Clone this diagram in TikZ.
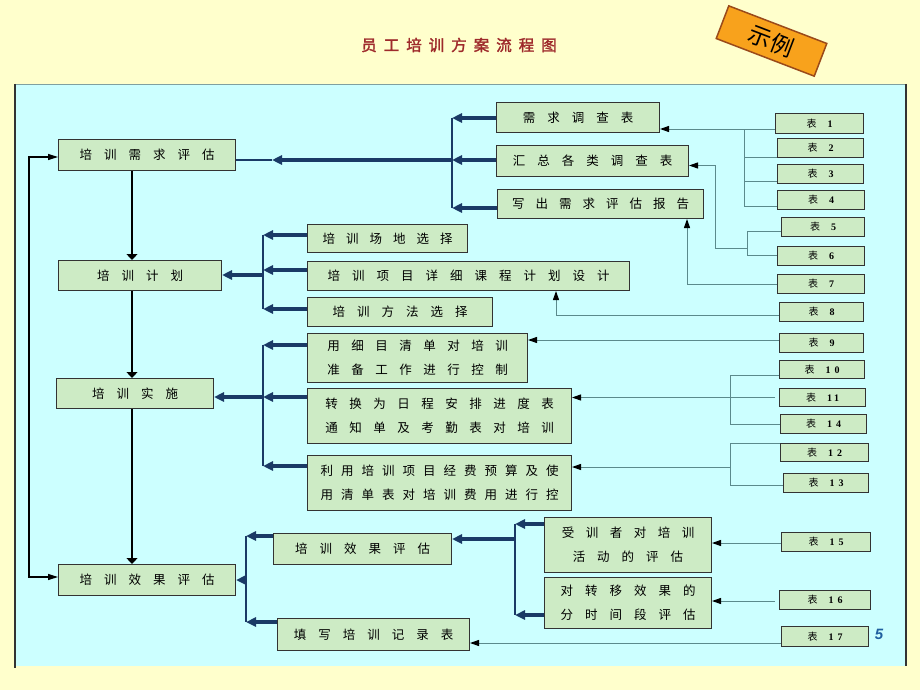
\documentclass[tikz,border=0pt]{standalone}
\usepackage{fontspec}
\setmainfont{Liberation Serif}
\newfontfamily\cjk{Noto Sans CJK SC}
\newfontfamily\cjkbold[FakeBold=2]{Noto Sans CJK SC}
\newfontfamily\numf{Liberation Serif}
\newfontfamily\pgnum{Liberation Sans}
\usetikzlibrary{arrows.meta,calc}
\definecolor{bgyellow}{HTML}{FFFFCC}
\definecolor{panelc}{HTML}{CCFFFF}
\definecolor{boxfill}{HTML}{CDEBC5}
\definecolor{boxborder}{HTML}{333333}
\definecolor{tline}{HTML}{5B8A8C}
\definecolor{navy}{HTML}{1A3A66}
\definecolor{titlered}{HTML}{9E2A2B}
\definecolor{badgefill}{HTML}{F8A21C}
\definecolor{badgeborder}{HTML}{9A4A1A}
\definecolor{pgblue}{HTML}{2060A0}
\definecolor{paneltop}{HTML}{7FA0A0}
\makeatletter
\newcommand\spread[2]{\def\sp@first{1}\@tfor\sp@ch:=#2\do{\ifx\sp@first\@empty\hspace{#1}\fi\sp@ch\let\sp@first\@empty}}
\makeatother
\newcommand\tb[1]{\cjk 表\hspace{11pt}{\numf\bfseries #1}}
\begin{document}
\begin{tikzpicture}[x=1pt,y=-1pt,
  box/.style={draw=boxborder, line width=1pt, fill=boxfill, inner sep=0pt, anchor=north west, align=center,
    font=\cjk\fontsize{12.5}{24}\selectfont},
  tbox/.style={box, font=\cjk\fontsize{10}{10}\selectfont},
  mainar/.style={line width=1.2pt, draw=black, -{Triangle[length=6pt,width=11pt]}},
  loopar/.style={line width=1.2pt, draw=black, {Triangle[length=10pt,width=6pt]}-{Triangle[length=10pt,width=6pt]}},
  thickar/.style={line width=3.5pt, draw=navy, -{Triangle[length=10pt,width=9pt]}},
  busline/.style={line width=1.8pt, draw=navy},
  tconn/.style={line width=1pt, draw=tline},
  tip/.style={-{Triangle[length=9pt,width=6pt,color=black]}}
]
\useasboundingbox (0,0) rectangle (920,690);
\fill[bgyellow] (0,0) rectangle (920,690);
\fill[panelc] (15,84) rectangle (906,666);
\draw[paneltop, line width=0.8pt] (15,84) -- (906,84);
\draw[line width=1.5pt, draw=boxborder] (15,84) -- (15,668);
\draw[line width=1.5pt, draw=boxborder] (906,84) -- (906,666);

% title and badge
\node[font=\cjkbold\fontsize{15.5}{15.5}\selectfont, text=titlered] (title) at (459,45) {\spread{7pt}{员工培训方案流程图}};
\node[draw=badgeborder, line width=1.5pt, fill=badgefill, minimum width=105pt, minimum height=35pt, rotate=-21,
  font=\cjk\fontsize{23}{23}\selectfont] (badge) at (771.5,41) {示例};
\node[font=\pgnum\bfseries\itshape\fontsize{15}{15}\selectfont, text=pgblue] (pg) at (879,634) {5};

% main column
\node[box, minimum width=177pt, minimum height=31pt] (n1) at (58,139) {\spread{12pt}{培训需求评估}};
\node[box, minimum width=163pt, minimum height=30pt] (n2) at (58,260) {\spread{12pt}{培训计划}};
\node[box, minimum width=157pt, minimum height=30pt] (n3) at (56,378) {\spread{12pt}{培训实施}};
\node[box, minimum width=177pt, minimum height=31pt] (n4) at (58,564) {\spread{12pt}{培训效果评估}};

% need assessment group
\node[box, minimum width=163pt, minimum height=30pt] (r1) at (496,102) {\spread{12pt}{需求调查表}};
\node[box, minimum width=192pt, minimum height=31pt] (r2) at (496,145) {\spread{12pt}{汇总各类调查表}};
\node[box, minimum width=206pt, minimum height=29pt] (r3) at (497,189) {\spread{11pt}{写出需求评估报告}};

% plan group
\node[box, minimum width=160pt, minimum height=28pt] (p1) at (307,224) {\spread{11pt}{培训场地选择}};
\node[box, minimum width=322pt, minimum height=29pt] (p2) at (307,261) {\spread{12pt}{培训项目详细课程计划设计}};
\node[box, minimum width=185pt, minimum height=29pt] (p3) at (307,297) {\spread{12pt}{培训方法选择}};

% implementation group
\node[box, minimum width=220pt, minimum height=49pt] (s1) at (307,333) {\spread{11.5pt}{用细目清单对培训}\\\spread{11.5pt}{准备工作进行控制}};
\node[box, minimum width=264pt, minimum height=55pt] (s2) at (307,388) {\spread{11.5pt}{转换为日程安排进度表}\\\spread{11.5pt}{通知单及考勤表对培训}};
\node[box, minimum width=264pt, minimum height=55pt] (s3) at (307,455) {\spread{8pt}{利用培训项目经费预算及使}\\\spread{8pt}{用清单表对培训费用进行控}};

% evaluation group
\node[box, minimum width=178pt, minimum height=31pt] (e1) at (273,533) {\spread{12pt}{培训效果评估}};
\node[box, minimum width=192pt, minimum height=32pt] (e2) at (277,618) {\spread{12pt}{填写培训记录表}};
\node[box, minimum width=167pt, minimum height=55pt] (f1) at (544,517) {\spread{11.5pt}{受训者对培训}\\\spread{12pt}{活动的评估}};
\node[box, minimum width=167pt, minimum height=51pt] (f2) at (544,577) {\spread{12pt}{对转移效果的}\\\spread{12pt}{分时间段评估}};

% table boxes
\node[tbox, minimum width=88pt, minimum height=20pt] (t1) at (775,113) {\tb{1}};
\node[tbox, minimum width=86pt, minimum height=19pt] (t2) at (777,138) {\tb{2}};
\node[tbox, minimum width=86pt, minimum height=19pt] (t3) at (777,164) {\tb{3}};
\node[tbox, minimum width=87pt, minimum height=19pt] (t4) at (777,190) {\tb{4}};
\node[tbox, minimum width=83pt, minimum height=19pt] (t5) at (781,217) {\tb{5}};
\node[tbox, minimum width=87pt, minimum height=19pt] (t6) at (777,246) {\tb{6}};
\node[tbox, minimum width=87pt, minimum height=19pt] (t7) at (777,274) {\tb{7}};
\node[tbox, minimum width=84pt, minimum height=19pt] (t8) at (779,302) {\tb{8}};
\node[tbox, minimum width=84pt, minimum height=19pt] (t9) at (779,333) {\tb{9}};
\node[tbox, minimum width=85pt, minimum height=18pt] (t10) at (779,360) {\tb{1\hspace{4pt}0}};
\node[tbox, minimum width=86pt, minimum height=18pt] (t11) at (779,388) {\tb{1\hspace{2pt}1}};
\node[tbox, minimum width=86pt, minimum height=19pt] (t14) at (780,414) {\tb{1\hspace{4pt}4}};
\node[tbox, minimum width=88pt, minimum height=18pt] (t12) at (780,443) {\tb{1\hspace{4pt}2}};
\node[tbox, minimum width=85pt, minimum height=19pt] (t13) at (783,473) {\tb{1\hspace{4pt}3}};
\node[tbox, minimum width=89pt, minimum height=19pt] (t15) at (781,532) {\tb{1\hspace{4pt}5}};
\node[tbox, minimum width=91pt, minimum height=19pt] (t16) at (779,590) {\tb{1\hspace{4pt}6}};
\node[tbox, minimum width=87pt, minimum height=20pt] (t17) at (781,626) {\tb{1\hspace{4pt}7}};

% main flow
\coordinate (vx) at (132,0);
\draw[mainar] (vx |- n1.south) -- (vx |- n2.north);
\draw[mainar] (vx |- n2.south) -- (vx |- n3.north);
\draw[mainar] (vx |- n3.south) -- (vx |- n4.north);
\coordinate (l1) at (29,157);
\coordinate (l2) at (29,577);
\draw[loopar] (l1 -| n1.west) -- (l1) -- (l2) -- (l2 -| n4.west);

% bus A
\coordinate (bA1) at (452,118);
\coordinate (bA2) at (452,160);
\coordinate (bA3) at (452,208);
\coordinate (aA) at (272,160);
\draw[busline] (bA1) -- (bA3);
\draw[thickar] (bA1 -| r1.west) -- (bA1);
\draw[thickar] (bA2 -| r2.west) -- (bA2);
\draw[thickar] (bA3 -| r3.west) -- (bA3);
\draw[thickar] (bA2) -- (aA);
\draw[navy, line width=1.5pt] (aA) -- (aA -| n1.east);

% bus B
\coordinate (bB1) at (263,235);
\coordinate (bB2) at (263,270);
\coordinate (bB3) at (263,309);
\coordinate (bBm) at (263,275);
\draw[busline] (bB1) -- (bB3);
\draw[thickar] (bB1 -| p1.west) -- (bB1);
\draw[thickar] (bB2 -| p2.west) -- (bB2);
\draw[thickar] (bB3 -| p3.west) -- (bB3);
\draw[thickar] (bBm) -- (bBm -| n2.east);

% bus C
\coordinate (bC1) at (263,345);
\coordinate (bC2) at (263,397);
\coordinate (bC3) at (263,466);
\draw[busline] (bC1) -- (bC3);
\draw[thickar] (bC1 -| s1.west) -- (bC1);
\draw[thickar] (bC2 -| s2.west) -- (bC2);
\draw[thickar] (bC3 -| s3.west) -- (bC3);
\draw[thickar] (bC2) -- (bC2 -| n3.east);

% bus D
\coordinate (bD1) at (246,536);
\coordinate (bD2) at (246,622);
\coordinate (bDm) at (246,580);
\draw[busline] (bD1) -- (bD2);
\draw[thickar] (bD1 -| e1.west) -- (bD1);
\draw[thickar] (bD2 -| e2.west) -- (bD2);
\draw[thickar] (bDm) -- (bDm -| n4.east);

% bus E
\coordinate (bE1) at (515,524);
\coordinate (bE2) at (515,615);
\coordinate (bEm) at (515,539);
\draw[busline] (bE1) -- (bE2);
\draw[thickar] (bE1 -| f1.west) -- (bE1);
\draw[thickar] (bE2 -| f2.west) -- (bE2);
\draw[thickar] (bEm) -- (bEm -| e1.east);

% table connectors
\coordinate (y1) at (744,129);
\coordinate (k1b) at (744,206);
\coordinate (k1c) at (744,157);
\coordinate (k1d) at (744,181);
\draw[tconn,tip] (y1 -| t1.west) -- (y1 -| r1.east);
\draw[tconn] (y1) -- (k1b);
\draw[tconn] (k1c) -- (k1c -| t2.west);
\draw[tconn] (k1d) -- (k1d -| t3.west);
\draw[tconn] (k1b) -- (k1b -| t4.west);

\coordinate (k2a) at (747,231);
\coordinate (k2b) at (747,255);
\coordinate (k2m) at (747,248);
\coordinate (k2x) at (715,248);
\draw[tconn] (k2a -| t5.west) -- (k2a) -- (k2b) -- (k2b -| t6.west);
\draw[tconn,tip] (k2m) -- (k2x) |- ([yshift=-4.5pt]r2.east);

\draw[tconn,tip] (t7.west) -| ([xshift=-17pt]r3.south east);
\draw[tconn,tip] ([yshift=-3.5pt]t8.west) -| ([xshift=-74pt]p2.south east);

\coordinate (y9) at (779,340);
\draw[tconn,tip] (y9 -| t9.west) -- (y9 -| s1.east);

\coordinate (k3a) at (730,375);
\coordinate (k3b) at (730,424);
\draw[tconn] (k3a -| t10.west) -- (k3a) -- (k3b) -- (k3b -| t14.west);
\draw[tconn,tip] ([xshift=-4pt]t11.west) -- (t11.west -| s2.east);

\coordinate (k4a) at (730,443);
\coordinate (k4b) at (730,485);
\coordinate (k4m) at (730,467);
\draw[tconn] (k4a -| t12.west) -- (k4a) -- (k4b) -- (k4b -| t13.west);
\draw[tconn,tip] (k4m) -- (k4m -| s3.east);

\coordinate (y15) at (781,543);
\coordinate (y16) at (775,601);
\coordinate (y17) at (781,643);
\draw[tconn,tip] (y15 -| t15.west) -- (y15 -| f1.east);
\draw[tconn,tip] (y16) -- (y16 -| f2.east);
\draw[tconn,tip] (y17 -| t17.west) -- (y17 -| e2.east);
\end{tikzpicture}
\end{document}
